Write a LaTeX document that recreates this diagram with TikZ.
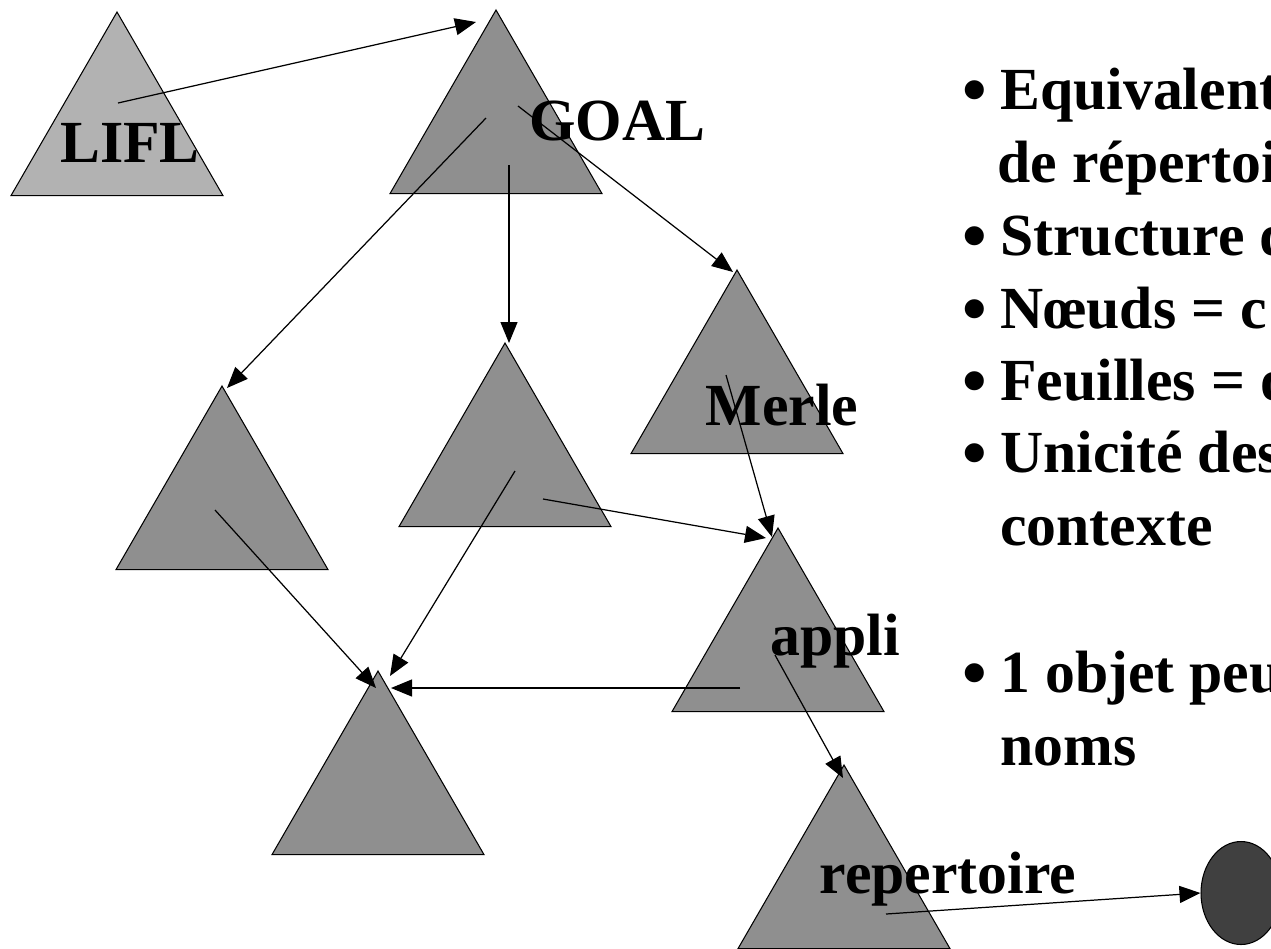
\documentclass[tikz,border=0pt]{standalone}
\usepackage{fontspec}
\setmainfont{Liberation Serif}
\usetikzlibrary{shapes.geometric,arrows.meta}
\definecolor{trilight}{HTML}{B2B2B2}
\definecolor{tridark}{HTML}{8F8F8F}
\definecolor{leafcol}{HTML}{404040}
\begin{document}
\begin{tikzpicture}[x=0.02cm,y=-0.02cm,
  tri/.style={regular polygon, regular polygon sides=3, minimum size=4.896cm, inner sep=0pt, outer sep=0pt, draw=black, line width=0.6pt, fill=tridark},
  lbl/.style={font=\bfseries\fontsize{34}{41}\selectfont, anchor=base, inner sep=0pt},
  txt/.style={font=\bfseries\fontsize{34}{41}\selectfont, anchor=base west, inner sep=0pt},
  bul/.style={font=\bfseries\fontsize{40}{48}\selectfont, anchor=base, inner sep=0pt},
  arr/.style={-{Triangle[length=0.42cm,width=0.34cm]}, line width=0.7pt},
]
\useasboundingbox (0,0) rectangle (1271,948);
\clip (0,0) rectangle (1271,948);

% triangles
\node[tri, fill=trilight] (lifl) at (117,134.4) {};
\node[tri] (goal)  at (496,132.4) {};
\node[tri] (merle) at (737,392.4) {};
\node[tri] (lm)    at (222,508.4) {};
\node[tri] (cm)    at (505,465.4) {};
\node[tri] (appli) at (778,650.4) {};
\node[tri] (bl)    at (378,793.4) {};
\node[tri] (rep)   at (844,887.4) {};
\node[ellipse, draw=black, line width=0.6pt, fill=leafcol, minimum width=1.6cm, minimum height=2.06cm, inner sep=0pt] (leaf) at (1241,893) {};

% labels
\node[lbl] (tlifl)  at (130,162) {LIFL};
\node[lbl] (tgoal)  at (617,140) {GOAL};
\node[lbl] (tmerle) at (782,425) {Merle};
\node[lbl] (tappli) at (835,655) {appli};
\node[lbl] (trep)   at (948,893) {repertoire};

% arrow end points
\coordinate (a1s) at (118,103);  \coordinate (a1e) at (476,22);
\coordinate (a2s) at (486,118);  \coordinate (a2e) at (227,388);
\coordinate (a3s) at (509,165);  \coordinate (a3e) at (509,343);
\coordinate (a4s) at (518,106);  \coordinate (a4e) at (733,272);
\coordinate (a5s) at (726,375);  \coordinate (a5e) at (772,537);
\coordinate (a6s) at (543,499);  \coordinate (a6e) at (766,538);
\coordinate (a7s) at (515,471);  \coordinate (a7e) at (390,676);
\coordinate (a8s) at (215,510);  \coordinate (a8e) at (376,688);
\coordinate (a9s) at (740,688);  \coordinate (a9e) at (391,688);
\coordinate (a10s) at (775,655); \coordinate (a10e) at (843,778);
\coordinate (a11s) at (886,914); \coordinate (a11e) at (leaf.west);

\draw[arr] (a1s) -- (a1e);
\draw[arr] (a2s) -- (a2e);
\draw[arr] (a3s) -- (a3e);
\draw[arr] (a4s) -- (a4e);
\draw[arr] (a5s) -- (a5e);
\draw[arr] (a6s) -- (a6e);
\draw[arr] (a7s) -- (a7e);
\draw[arr] (a8s) -- (a8e);
\draw[arr] (a9s) -- (a9e);
\draw[arr] (a10s) -- (a10e);
\draw[arr] (a11s) -- (a11e);

% bullet text
\node[bul] (b1) at (975,113) {•};
\node[txt] (l1) at (1000,109) {Equivalent};
\node[txt] (l2) at (997,182) {de répertoi};
\node[bul] (b3) at (975,259) {•};
\node[txt] (l3) at (1000,255) {Structure d};
\node[bul] (b4) at (975,332) {•};
\node[txt] (l4) at (1000,328) {Nœuds = c};
\node[bul] (b5) at (975,404) {•};
\node[txt] (l5) at (1000,400) {Feuilles = o};
\node[bul] (b6) at (975,476) {•};
\node[txt] (l6) at (1000,472) {Unicité des};
\node[txt] (l7) at (1000,545) {contexte};
\node[bul] (b8) at (975,696) {•};
\node[txt] (l8) at (1000,692) {1 objet peut};
\node[txt] (l9) at (1000,765) {noms};
\end{tikzpicture}
\end{document}
